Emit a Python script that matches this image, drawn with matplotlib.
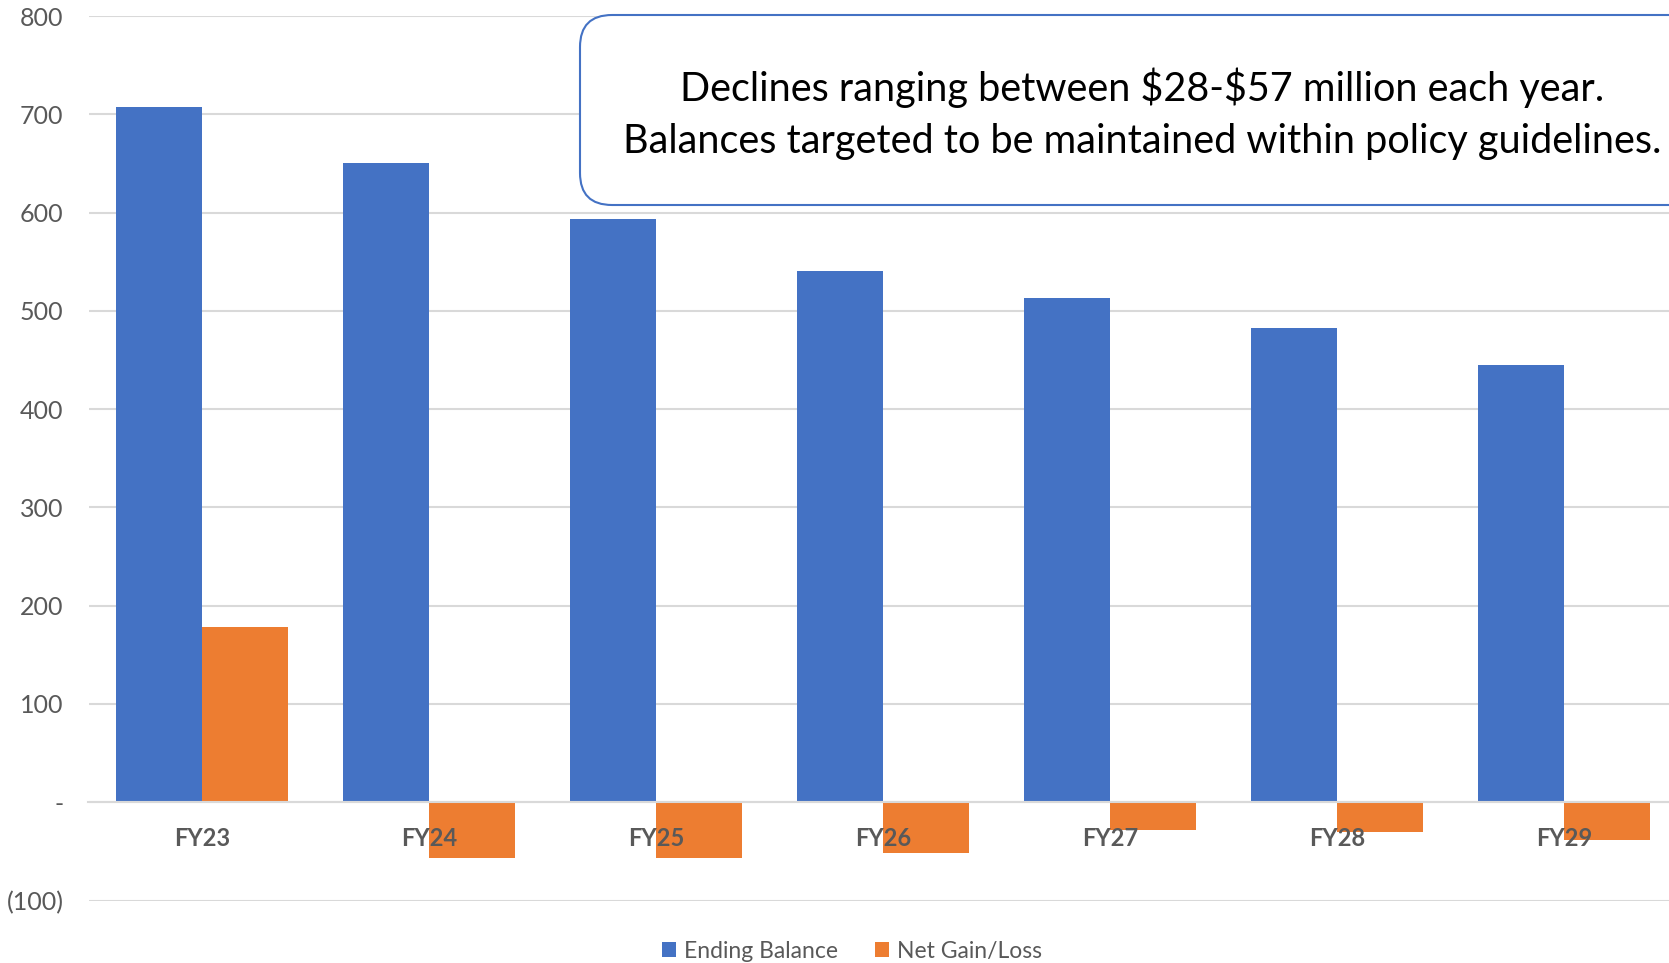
import matplotlib.pyplot as plt
import numpy as np
from matplotlib.patches import FancyBboxPatch

plt.rcParams['font.family'] = ['Lato', 'DejaVu Sans']

years = ["FY23", "FY24", "FY25", "FY26", "FY27", "FY28", "FY29"]
ending_balance = [707, 650, 593, 541, 513, 483, 445]
net_gain_loss = [178, -57, -57, -52, -28, -30, -38]
y_ticks = [-100, 0, 100, 200, 300, 400, 500, 600, 700, 800]
y_labels = ["(100)", "-", "100", "200", "300", "400", "500", "600", "700", "800"]

blue = "#4472C4"
orange = "#ED7D31"
grey_text = "#595959"
grid_col = "#D9D9D9"

W, H = 1669, 963
fig = plt.figure(figsize=(W / 100, H / 100), dpi=100)
ax = fig.add_axes([88.5 / W, 1 - 900.5 / H, 1589 / W, 884.5 / H])

x = np.arange(len(years))
w = 0.38
ax.bar(x - w / 2, ending_balance, w, color=blue, label="Ending Balance", zorder=1)
ax.bar(x + w / 2, net_gain_loss, w, color=orange, label="Net Gain/Loss", zorder=1)

for t in y_ticks:
    ax.axhline(t, color=grid_col, lw=1.5, zorder=0)

# x axis sits on zero like in Excel
for s in ["top", "right", "left"]:
    ax.spines[s].set_visible(False)
ax.spines["bottom"].set_position(("data", 0))
ax.spines["bottom"].set_color(grid_col)
ax.spines["bottom"].set_linewidth(1.5)

ax.set_xlim(-0.5, len(years) - 0.5)
ax.set_ylim(-100, 800)
ax.set_yticks(y_ticks)
ax.set_yticklabels(y_labels)
ax.set_xticks(x)
ax.set_xticklabels(years)
ax.tick_params(axis="y", length=0, pad=18, labelsize=18, labelcolor=grey_text)
ax.tick_params(axis="x", length=0, pad=17.5, labelsize=17, labelcolor=grey_text)
for lbl in ax.get_xticklabels():
    lbl.set_fontweight("bold")

fig.legend(loc="center", bbox_to_anchor=(852 / W, 1 - 951 / H), ncol=2, frameon=False,
           fontsize=16.5, labelcolor=grey_text, handlelength=0.6, handleheight=0.6,
           handletextpad=0.35, columnspacing=1.6)

# annotation box, cut off at the right edge like the source
box = FancyBboxPatch((5.80, (H - 205) / 100), 12.0, 1.90,
                     boxstyle="round,pad=0,rounding_size=0.32",
                     transform=fig.dpi_scale_trans, facecolor="white",
                     edgecolor=blue, lw=1.5, zorder=5)
fig.patches.append(box)
fig.text(1142 / W, 1 - 88 / H, r"Declines ranging between \$28-\$57 million each year.",
         ha="center", va="center", fontsize=28.5, color="black", zorder=6)
fig.text(1142 / W, 1 - 141 / H, "Balances targeted to be maintained within policy guidelines.",
         ha="center", va="center", fontsize=28.5, color="black", zorder=6)

fig.savefig("out.png", dpi=100)
